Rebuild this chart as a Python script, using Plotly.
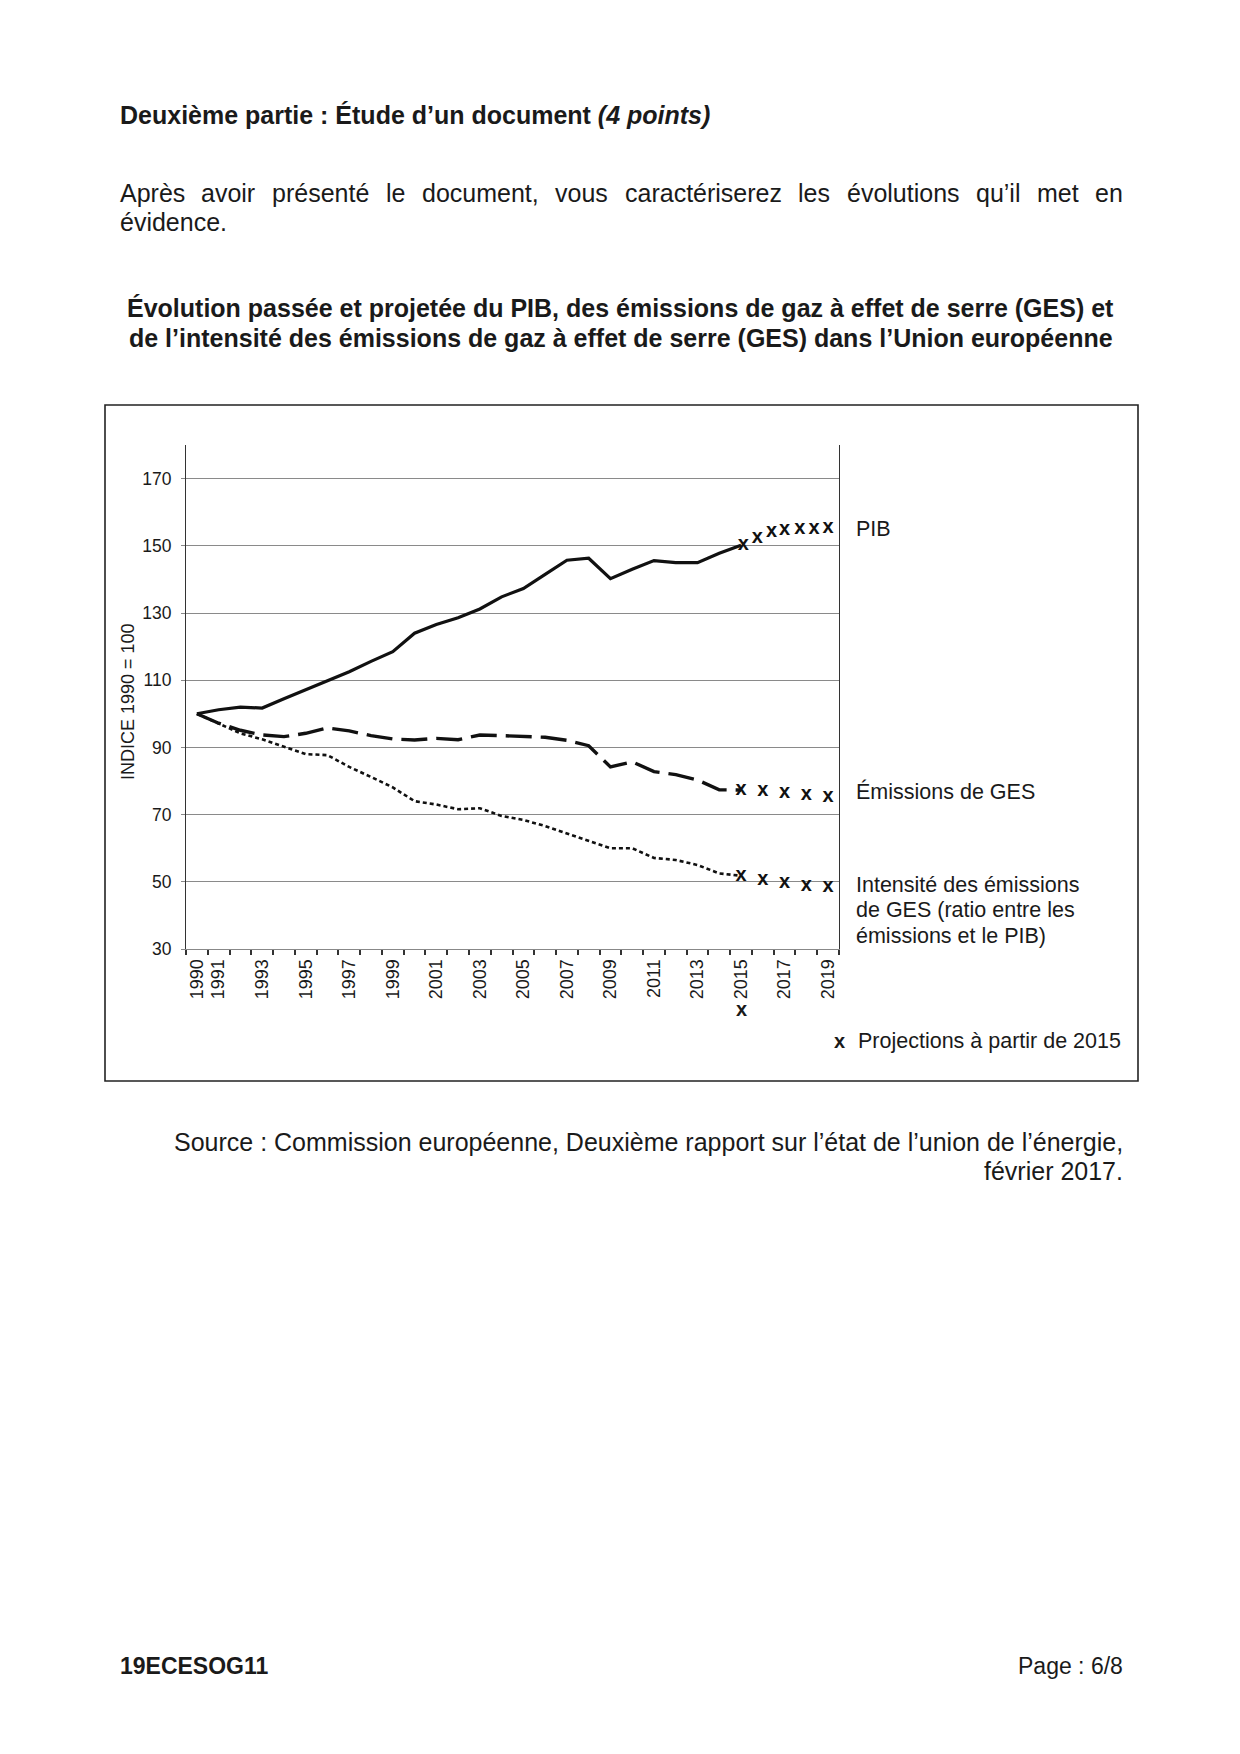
import plotly.graph_objects as go

# ---------------- data ----------------
years = [1990, 1991, 1992, 1993, 1994, 1995, 1996, 1997, 1998, 1999, 2000, 2001, 2002,
         2003, 2004, 2005, 2006, 2007, 2008, 2009, 2010, 2011, 2012, 2013, 2014, 2015]
pib = [100, 101.2, 102.0, 101.7, 104.5, 107.2, 110.0, 112.5, 115.6, 118.5, 124.0, 126.6, 128.6,
       131.2, 134.8, 137.3, 141.5, 145.7, 146.3, 140.2, 143.0, 145.6, 145.0, 145.0, 147.8, 150.2]
ges = [100, 97.2, 95.1, 93.7, 93.2, 94.2, 95.8, 94.9, 93.5, 92.5, 92.2, 92.7, 92.3,
       93.7, 93.5, 93.2, 93.0, 92.1, 90.5, 84.2, 85.7, 82.8, 81.9, 80.3, 77.4, 77.3]
intensite = [100, 97.0, 94.2, 92.4, 90.2, 88.0, 87.7, 84.2, 81.2, 78.1, 74.0, 73.0, 71.6,
             71.9, 69.6, 68.4, 66.6, 64.4, 62.4, 60.0, 60.0, 57.1, 56.5, 55.0, 52.5, 51.8]

proj_years = [2015, 2016, 2017, 2018, 2019]
proj_ges = [77.3, 77.0, 76.3, 75.8, 75.1]
proj_int = [51.7, 50.5, 49.5, 48.8, 48.5]
proj_pib_x = [2015.1, 2015.75, 2016.4, 2017.0, 2017.7, 2018.35, 2019.0]
proj_pib = [150.2, 152.2, 154.2, 154.7, 154.9, 154.9, 155.2]

y_ticks = [30, 50, 70, 90, 110, 130, 150, 170]
x_label_years = [1990, 1991, 1993, 1995, 1997, 1999, 2001, 2003, 2005, 2007, 2009,
                 2011, 2013, 2015, 2017, 2019]
all_years = [1990, 1991, 1992, 1993, 1994, 1995, 1996, 1997, 1998, 1999, 2000, 2001, 2002,
             2003, 2004, 2005, 2006, 2007, 2008, 2009, 2010, 2011, 2012, 2013, 2014, 2015,
             2016, 2017, 2018, 2019]

# ---------------- geometry helpers (page pixel -> paper) ----------------
FONT = "Liberation Sans, Arial, sans-serif"
INK = "#1a1a1a"
PL, PR, PT, PB = 186, 839, 445, 949   # plot area on the page


def X(p):
    return (p - PL) / (PR - PL)


def Y(p):
    return (PB - p) / (PB - PT)


fig = go.Figure()

fig.add_trace(go.Scatter(x=years, y=pib, mode="lines",
                         line=dict(color="#111111", width=3.2), name="PIB"))
fig.add_trace(go.Scatter(x=years, y=ges, mode="lines",
                         line=dict(color="#111111", width=3.4, dash="26px,9px"),
                         name="Émissions de GES"))
fig.add_trace(go.Scatter(x=years, y=intensite, mode="lines",
                         line=dict(color="#111111", width=2.6, dash="4px,3px"),
                         name="Intensité"))

xfont = dict(family=FONT, size=20, color="#111111")
for xs, ys in [(proj_pib_x, proj_pib), (proj_years, proj_ges), (proj_years, proj_int)]:
    fig.add_trace(go.Scatter(x=xs, y=ys, mode="text", text=["<b>x</b>"] * len(xs),
                             textposition="middle center", textfont=xfont,
                             hoverinfo="skip"))

boundaries = [y - 0.5 for y in all_years] + [all_years[-1] + 0.5]

fig.update_xaxes(range=[1989.5, 2019.5], tickmode="array", tickvals=x_label_years,
                 ticktext=[str(v) for v in x_label_years], tickangle=-90, ticks="",
                 ticklabelstandoff=2,
                 tickfont=dict(family=FONT, size=18, color=INK), showgrid=False,
                 zeroline=False, showline=True, linecolor="#888888", linewidth=1,
                 minor=dict(tickmode="array", tickvals=boundaries, ticks="outside",
                            ticklen=5, tickwidth=1.5, tickcolor="#333333", showgrid=False))
fig.update_yaxes(range=[30, 180], tickmode="array", tickvals=y_ticks,
                 ticks="outside", ticklen=4, tickcolor="#888888", ticklabelstandoff=6,
                 tickfont=dict(family=FONT, size=17.5, color=INK),
                 showgrid=True, gridcolor="#8a8a8a", gridwidth=1, zeroline=False,
                 showline=True, mirror=True, linecolor="#333333", linewidth=1)

ann = []


def text(x, y, s, size=25, xanchor="left", angle=0, color=INK):
    ann.append(dict(x=X(x), y=Y(y), xref="paper", yref="paper", text=s, showarrow=False,
                    xanchor=xanchor, yanchor="middle", textangle=angle,
                    font=dict(family=FONT, size=size, color=color)))


# header
text(117.5, 115, "<b>Deuxième partie : Étude d’un document <i>(4 points)</i></b>")

# justified first line of the instruction
ARIAL = {"A": 667, "p": 556, "r": 333, "è": 556, "s": 500, "a": 556, "v": 500, "o": 556,
         "i": 222, "é": 556, "n": 556, "t": 278, "l": 222, "e": 556, "d": 556, "c": 500,
         "u": 556, "m": 833, ",": 278, "q": 556, "’": 222, "z": 500}
words = ["Après", "avoir", "présenté", "le", "document,", "vous", "caractériserez", "les",
         "évolutions", "qu’il", "met", "en"]
widths = [sum(ARIAL.get(ch, 556) for ch in w) * 25 / 1000 for w in words]
left, right = 117.5, 1121
gap = (right - left - sum(widths)) / (len(words) - 1)
pos = left
for w, wd in zip(words, widths):
    text(pos, 193, w)
    pos += wd + gap
text(117.5, 222, "évidence.")

# title
text(620.5, 308, "<b>Évolution passée et projetée du PIB, des émissions de gaz à effet de serre (GES) et</b>",
     xanchor="center")
text(620.5, 337.5, "<b>de l’intensité des émissions de gaz à effet de serre (GES) dans l’Union européenne</b>",
     xanchor="center")

# chart labels
text(128, 702, "INDICE 1990 = 100", size=18, xanchor="center", angle=-90)
text(854, 529, "PIB", size=21.5)
text(854, 791, "Émissions de GES", size=21.5)
text(854, 885, "Intensité des émissions", size=21.5)
text(854, 910, "de GES (ratio entre les", size=21.5)
text(854, 936, "émissions et le PIB)", size=21.5)
text(741, 1009, "<b>x</b>", size=20, xanchor="center")
text(839, 1041, "<b>x</b>", size=20, xanchor="center")
text(856, 1041, "Projections à partir de 2015", size=21.5)

# source
text(1124.5, 1142, "Source : Commission européenne, Deuxième rapport sur l’état de l’union de l’énergie,",
     xanchor="right")
text(1124.5, 1171, "février 2017.", xanchor="right")

# footer
text(117.5, 1666, "<b>19ECESOG11</b>", size=23)
text(1125, 1666, "Page : 6/8", size=23, xanchor="right")

fig.update_layout(
    width=1224, height=1738,
    margin=dict(l=PL - 8, r=1224 - (PR - 8), t=PT - 8, b=1738 - (PB - 8), pad=0),
    paper_bgcolor="white", plot_bgcolor="white", showlegend=False,
    font=dict(family=FONT, color=INK),
    annotations=ann,
    shapes=[dict(type="rect", xref="paper", yref="paper", x0=X(105), x1=X(1138),
                 y0=Y(1081), y1=Y(405), line=dict(color="#222222", width=1.6),
                 layer="below")],
)

fig.write_html("out.html")
